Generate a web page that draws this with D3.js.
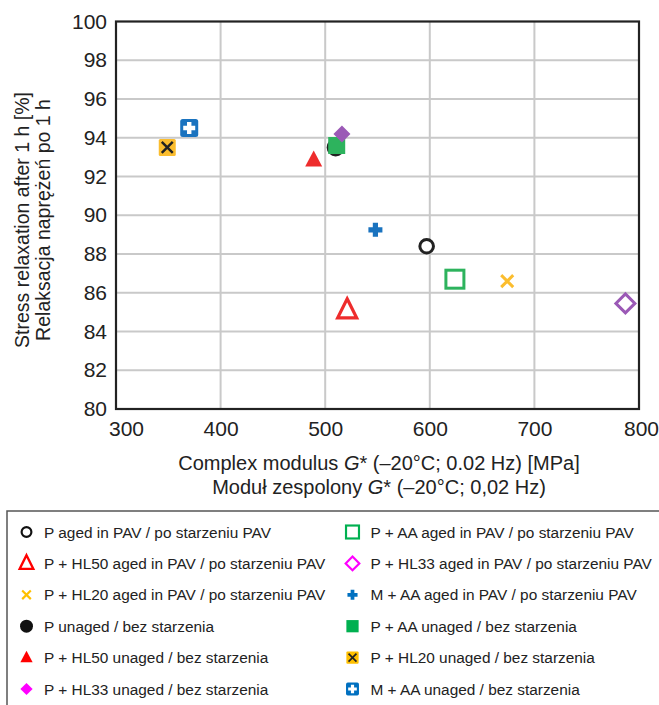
<!DOCTYPE html>
<html><head><meta charset="utf-8">
<script src="https://cdn.jsdelivr.net/npm/d3@7/dist/d3.min.js"></script>
<style>
html,body{margin:0;padding:0;background:#fff;}
svg{display:block;font-family:"Liberation Sans",Arial,sans-serif;}
</style></head>
<body>
<svg id="c" width="659" height="705"></svg>
<script>
// ---- data ----
const seriesNames = [
  "P aged in PAV / po starzeniu PAV",
  "P + HL50 aged in PAV / po starzeniu PAV",
  "P + HL20 aged in PAV / po starzeniu PAV",
  "P unaged / bez starzenia",
  "P + HL50 unaged / bez starzenia",
  "P + HL33 unaged / bez starzenia",
  "P + AA aged in PAV / po starzeniu PAV",
  "P + HL33 aged in PAV / po starzeniu PAV",
  "M + AA aged in PAV / po starzeniu PAV",
  "P + AA unaged / bez starzenia",
  "P + HL20 unaged / bez starzenia",
  "M + AA unaged / bez starzenia"
];
const modulusG = [597, 521, 674, 510, 489, 516, 624, 787, 548, 511, 349, 370];
const relaxation = [88.4, 85.1, 86.6, 93.5, 92.85, 94.2, 86.7, 85.45, 89.25, 93.6, 93.5, 94.5];
const markerTypes = ["circleOpen","triOpen","x","circle","tri","diamond","squareOpen","diamondOpen","plus","square","squareX","squarePlus"];
const plotColors = ["#222222","#ee2c2c","#fbbd2e","#222222","#ee2c2c","#9b59b6","#2db35d","#9b59b6","#1a73bf","#2db35d","#fbbd2e","#1a73bf"];
const legendColors = ["#111111","#ff0000","#ffc000","#111111","#ff0000","#ff00ff","#00b050","#ff00ff","#0070c0","#00b050","#ffc000","#0070c0"];
const drawOrder = [0,1,2,3,4,6,7,8,9,10,11,5];
const xTicks = [300, 400, 500, 600, 700, 800];
const yTicks = [80, 82, 84, 86, 88, 90, 92, 94, 96, 98, 100];

// ---- layout ----
const svg = d3.select("#c");
const L = 116, R = 639, T = 21.5, B = 409;
const x = d3.scaleLinear().domain([300, 800]).range([L, R]);
const y = d3.scaleLinear().domain([80, 100]).range([B, T]);
const textCol = "#222";

// grid
svg.append("g").selectAll("line.vx").data(xTicks.slice(1, -1)).join("line")
  .attr("x1", d => x(d)).attr("x2", d => x(d)).attr("y1", T).attr("y2", B)
  .attr("stroke", "#c9c9c9").attr("stroke-width", 2);
svg.append("g").selectAll("line.hy").data(yTicks.slice(1, -1)).join("line")
  .attr("x1", L).attr("x2", R).attr("y1", d => y(d)).attr("y2", d => y(d))
  .attr("stroke", "#c9c9c9").attr("stroke-width", 2);

// axes (labels only)
const xAxis = d3.axisBottom(x).tickValues(xTicks).tickSize(0).tickPadding(12);
const gx = svg.append("g").attr("transform", `translate(0,${B})`).call(xAxis);
gx.select(".domain").remove();
gx.selectAll("text").attr("font-size", 21).attr("fill", textCol).attr("font-family", "Liberation Sans, Arial, sans-serif");
gx.selectAll("text").filter(d => d === 300).attr("dx", 10);
gx.selectAll("text").filter(d => d === 800).attr("dx", 2);

const yAxis = d3.axisLeft(y).tickValues(yTicks).tickSize(0).tickPadding(9);
const gy = svg.append("g").attr("transform", `translate(${L},0)`).call(yAxis);
gy.select(".domain").remove();
gy.selectAll("text").attr("font-size", 21).attr("fill", textCol).attr("font-family", "Liberation Sans, Arial, sans-serif");

// frame
svg.append("rect").attr("x", L).attr("y", T).attr("width", R - L).attr("height", B - T)
  .attr("fill", "none").attr("stroke", "#222").attr("stroke-width", 2.2);

// axis titles
const xt = svg.append("text").attr("text-anchor", "middle").attr("font-size", 20).attr("fill", textCol);
const xtl1 = xt.append("tspan").attr("x", 379).attr("y", 470);
xtl1.append("tspan").text("Complex modulus ");
xtl1.append("tspan").attr("font-style", "italic").text("G");
xtl1.append("tspan").text("* (–20°C; 0.02 Hz) [MPa]");
const xtl2 = xt.append("tspan").attr("x", 379).attr("y", 494);
xtl2.append("tspan").text("Moduł zespolony ");
xtl2.append("tspan").attr("font-style", "italic").text("G");
xtl2.append("tspan").text("* (–20°C; 0,02 Hz)");

const yt = svg.append("text").attr("text-anchor", "middle").attr("font-size", 19.5).attr("fill", textCol)
  .attr("transform", `translate(0,220) rotate(-90)`);
yt.append("tspan").attr("x", 0).attr("y", 29).text("Stress relaxation after 1 h [%]");
yt.append("tspan").attr("x", 0).attr("y", 50).text("Relaksacja naprężeń po 1 h");

// ---- markers ----
function drawMarker(g, type, color, s) {
  switch (type) {
    case "circleOpen":
      g.append("circle").attr("r", 6.8 * s).attr("fill", "#fff").attr("stroke", color).attr("stroke-width", 3 * s); break;
    case "circle":
      g.append("circle").attr("r", 9 * s).attr("fill", color); break;
    case "triOpen": {
      const h = 19 * s, w = 19 * s;
      g.append("path").attr("d", `M0,${-h*0.6}L${w/2},${h*0.4}L${-w/2},${h*0.4}Z`)
        .attr("fill", "#fff").attr("stroke", color).attr("stroke-width", 3.2 * s).attr("stroke-linejoin", "miter"); break; }
    case "tri": {
      const h = 16 * s, w = 17 * s;
      g.append("path").attr("d", `M0,${-h*0.6}L${w/2},${h*0.4}L${-w/2},${h*0.4}Z`).attr("fill", color); break; }
    case "x": {
      const a = 6 * s;
      g.append("path").attr("d", `M${-a},${-a}L${a},${a}M${-a},${a}L${a},${-a}`)
        .attr("stroke", color).attr("stroke-width", 3 * s).attr("fill", "none"); break; }
    case "diamond": {
      const a = 8.5 * s;
      g.append("path").attr("d", `M0,${-a}L${a},0L0,${a}L${-a},0Z`).attr("fill", color); break; }
    case "diamondOpen": {
      const a = 9.5 * s;
      g.append("path").attr("d", `M0,${-a}L${a},0L0,${a}L${-a},0Z`).attr("fill", "#fff")
        .attr("stroke", color).attr("stroke-width", 3 * s); break; }
    case "squareOpen": {
      const a = 9 * s;
      g.append("rect").attr("x", -a).attr("y", -a).attr("width", 2 * a).attr("height", 2 * a)
        .attr("fill", "#fff").attr("stroke", color).attr("stroke-width", 3 * s); break; }
    case "square": {
      const a = 8.5 * s;
      g.append("rect").attr("x", -a).attr("y", -a).attr("width", 2 * a).attr("height", 2 * a).attr("fill", color); break; }
    case "plus": {
      const a = 7 * s, t = 2.6 * s;
      g.append("path").attr("d", `M${-a},${-t}H${-t}V${-a}H${t}V${-t}H${a}V${t}H${t}V${a}H${-t}V${t}H${-a}Z`).attr("fill", color); break; }
    case "squareX": {
      const a = 8.5 * s, b = 5.5 * s;
      g.append("rect").attr("x", -a).attr("y", -a).attr("width", 2 * a).attr("height", 2 * a).attr("rx", 1.5 * s).attr("fill", color);
      g.append("path").attr("d", `M${-b},${-b}L${b},${b}M${-b},${b}L${b},${-b}`)
        .attr("stroke", "#222").attr("stroke-width", 2.4 * s); break; }
    case "squarePlus": {
      const a = 9 * s, p = 6 * s, t = 2.2 * s;
      g.append("rect").attr("x", -a).attr("y", -a).attr("width", 2 * a).attr("height", 2 * a).attr("rx", 2.5 * s).attr("fill", color);
      g.append("path").attr("d", `M${-p},${-t}H${-t}V${-p}H${t}V${-t}H${p}V${t}H${t}V${p}H${-t}V${t}H${-p}Z`).attr("fill", "#fff"); break; }
  }
}

const pts = svg.append("g");
drawOrder.forEach(i => {
  const g = pts.append("g").attr("transform", `translate(${x(modulusG[i])},${y(relaxation[i])})`);
  drawMarker(g, markerTypes[i], plotColors[i], 1);
});

// ---- legend ----
svg.append("rect").attr("x", 7).attr("y", 511).attr("width", 700).attr("height", 220)
  .attr("fill", "none").attr("stroke", "#555").attr("stroke-width", 1.5);
const rowY = d3.scaleLinear().domain([0, 5]).range([532, 689]);
seriesNames.forEach((name, i) => {
  const col = Math.floor(i / 6), row = i % 6;
  const mx = col === 0 ? 26.5 : 352.5, tx = col === 0 ? 44 : 370.5;
  const cy = rowY(row);
  const g = svg.append("g").attr("transform", `translate(${mx},${cy})`);
  drawMarker(g, markerTypes[i], legendColors[i], 0.72);
  svg.append("text").attr("x", tx).attr("y", cy + 5.5).attr("font-size", 15.4).attr("fill", textCol).text(name);
});
</script>
</body></html>
